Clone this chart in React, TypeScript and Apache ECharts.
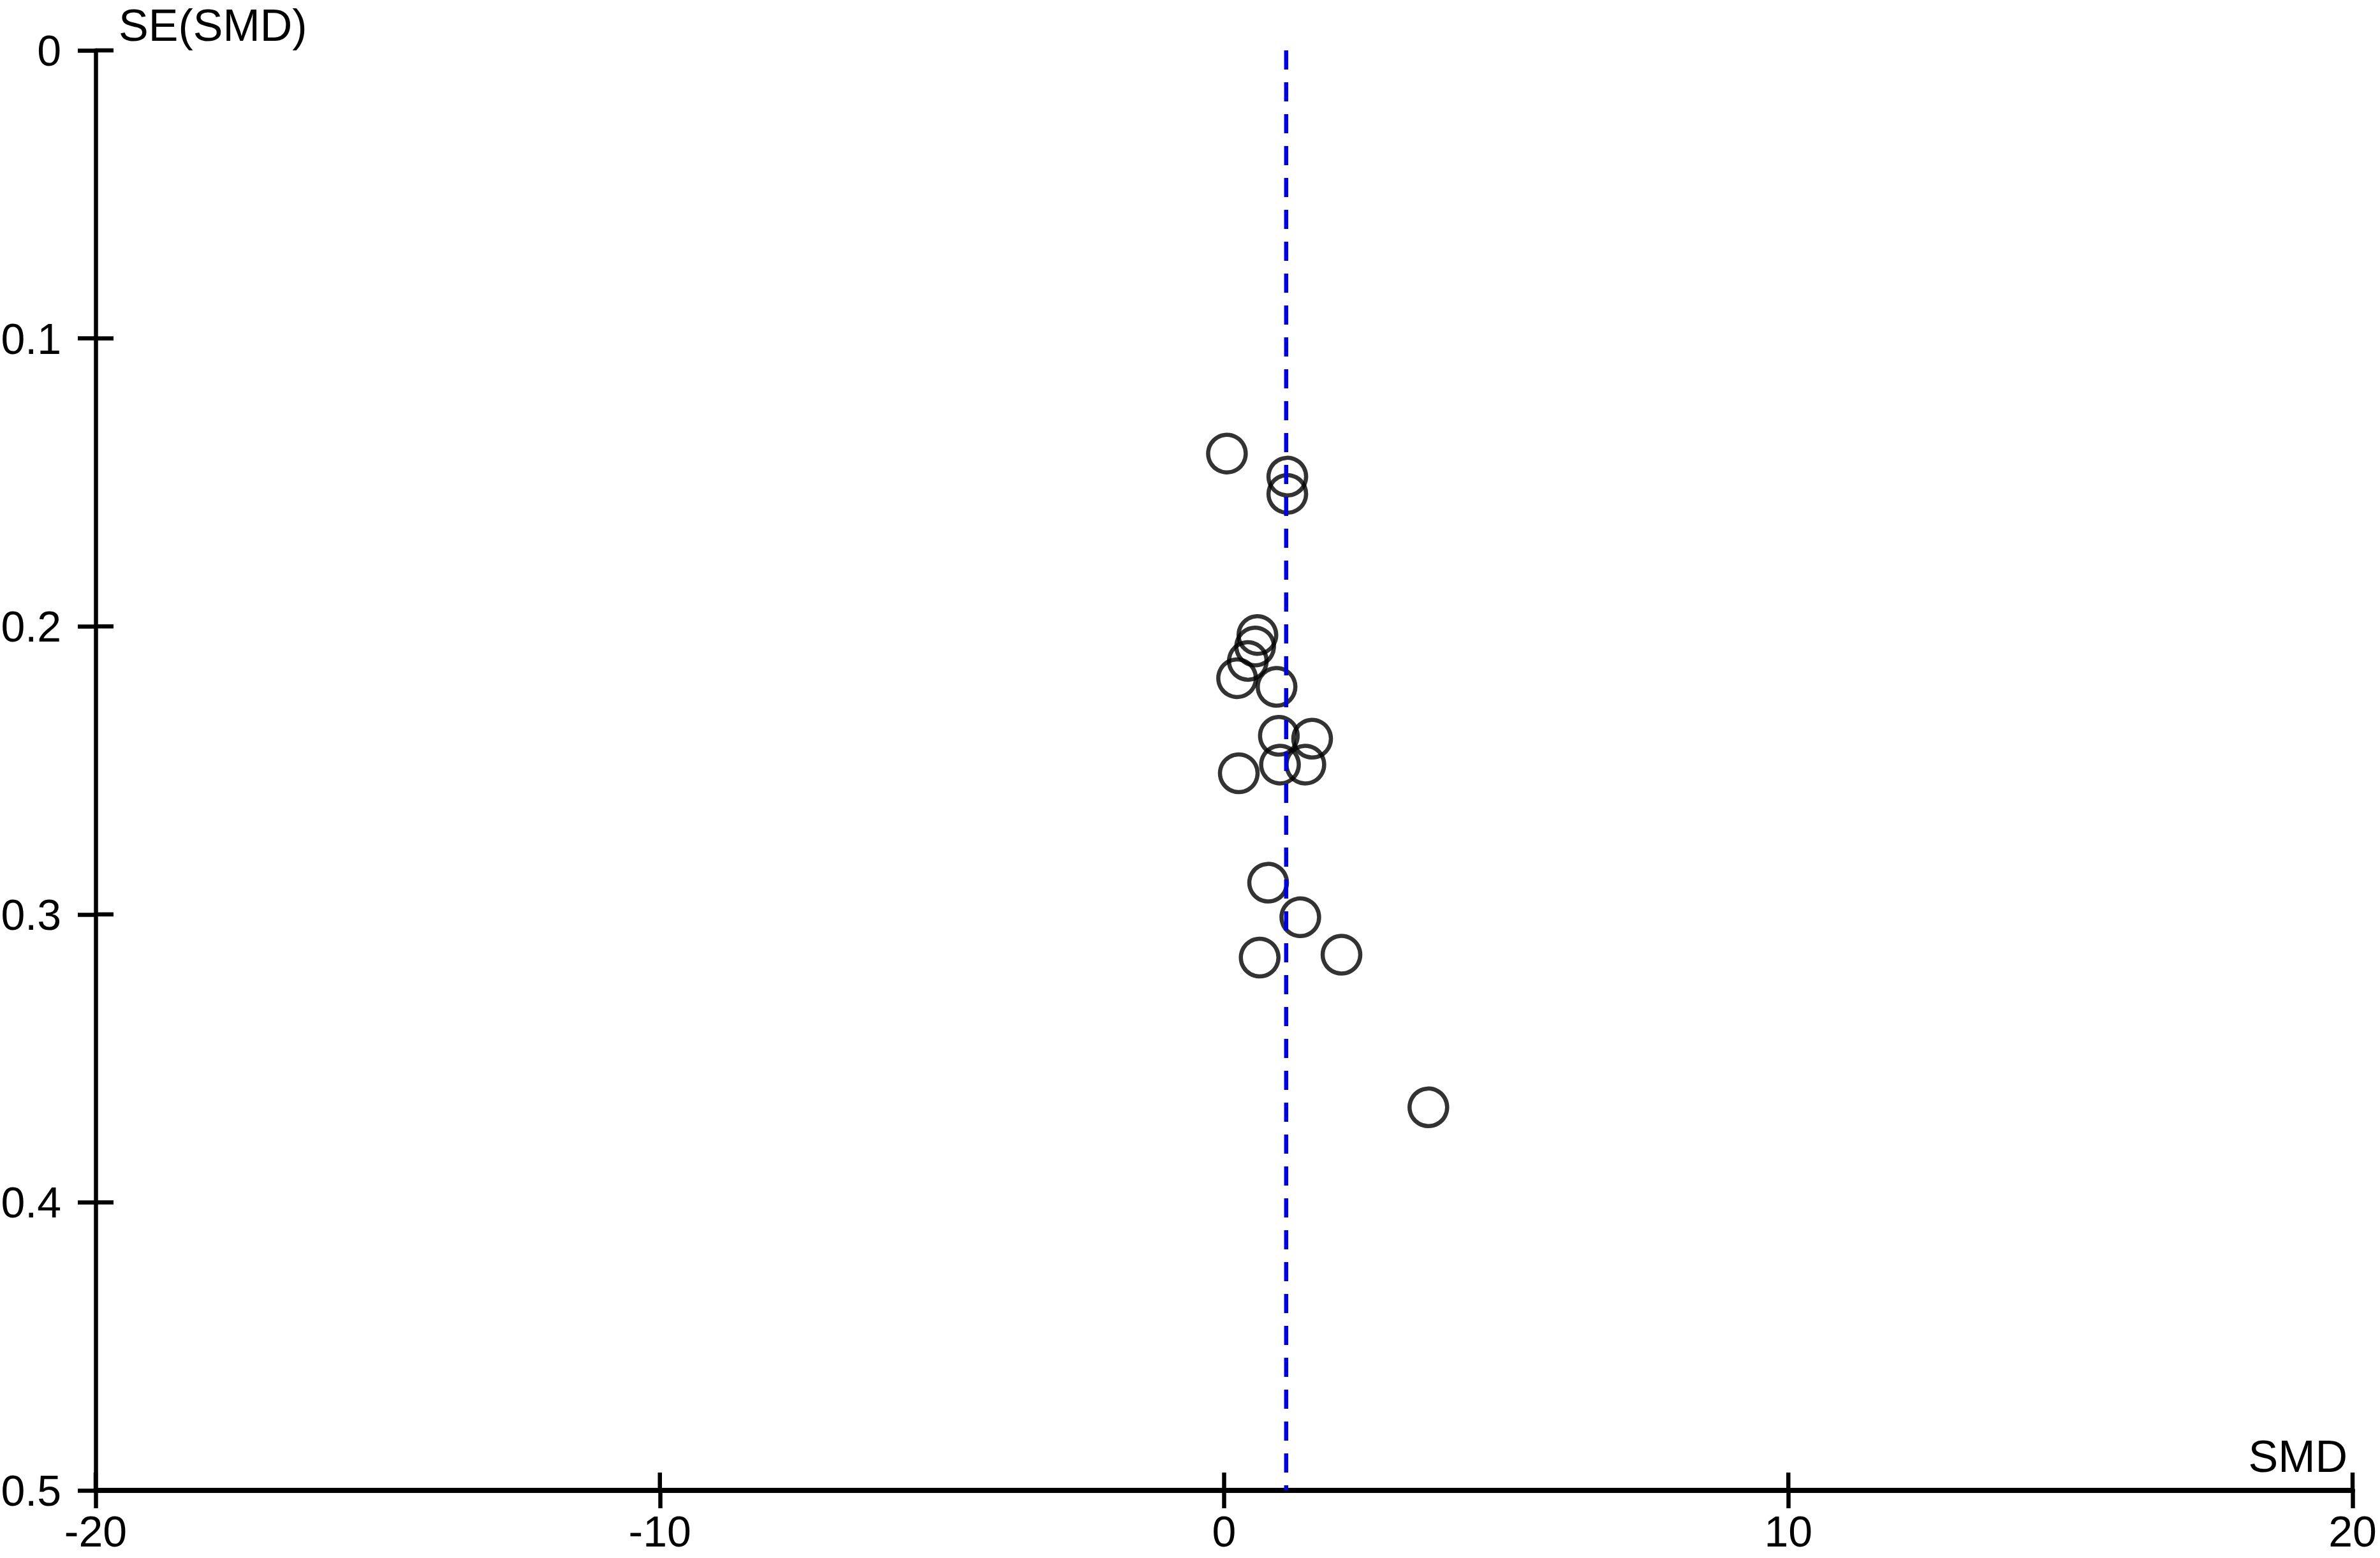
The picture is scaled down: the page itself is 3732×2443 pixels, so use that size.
import React, { useEffect, useRef } from "react";
import * as echarts from "echarts";

// Study effect sizes (SMD) and their standard errors
const smdValues = [0.05, 1.12, 1.12, 0.59, 0.55, 0.42, 0.23, 0.93, 0.97, 1.56, 0.99, 1.44, 0.26, 0.78, 1.35, 0.63, 2.08, 3.62];
const seValues = [0.14, 0.148, 0.154, 0.203, 0.207, 0.212, 0.218, 0.221, 0.238, 0.239, 0.248, 0.248, 0.251, 0.289, 0.301, 0.315, 0.314, 0.367];
const pooledSmd = 1.1;
const seRange = [0, 0.5];
const smdRange = [-20, 20];
const smdTicks = [-20, -10, 0, 10, 20];
const seTicks = [0, 0.1, 0.2, 0.3, 0.4, 0.5];

const FONT = "'Liberation Sans', Arial, sans-serif";
const TICK_LEN = 28;
const TICK_W = 6.5;

export default function App() {
  const ref = useRef<HTMLDivElement>(null);
  useEffect(() => {
    if (!ref.current) return;
    const chart = echarts.init(ref.current, undefined, { renderer: "svg" });
    const points = smdValues.map((x, i) => [x, seValues[i]]);
    const tickStyle = { color: "#000", width: TICK_W };
    const tickLabel = { color: "#000", fontSize: 68, fontFamily: FONT };
    const nameStyle = { color: "#000", fontSize: 70, fontFamily: FONT };
    chart.setOption({
      animation: false,
      backgroundColor: "#fff",
      grid: {
        left: 150,
        right: 43,
        top: 79,
        bottom: 106,
        containLabel: false,
        outerBoundsMode: "none",
      },
      xAxis: {
        type: "value",
        min: smdRange[0],
        max: smdRange[1],
        interval: 10,
        position: "bottom",
        axisLine: { show: true, onZero: false, lineStyle: { color: "#000", width: 8 } },
        axisTick: { show: true, length: TICK_LEN, inside: false, lineStyle: tickStyle },
        axisLabel: { ...tickLabel, margin: 30 },
        splitLine: { show: false },
        name: "SMD",
        nameLocation: "end",
        nameGap: -8,
        nameTextStyle: {
          ...nameStyle,
          align: "right",
          verticalAlign: "bottom",
          lineHeight: 78,
          padding: [0, 0, 14, 0],
        },
      },
      yAxis: {
        type: "value",
        inverse: true,
        min: seRange[0],
        max: seRange[1],
        interval: 0.1,
        position: "left",
        axisLine: { show: true, onZero: false, lineStyle: { color: "#000", width: 6.5 } },
        axisTick: { show: true, length: TICK_LEN, inside: false, lineStyle: tickStyle },
        axisLabel: { ...tickLabel, margin: 54, padding: [14, 0, 0, 0] },
        splitLine: { show: false },
        name: "SE(SMD)",
        nameLocation: "start",
        nameGap: 0,
        nameTextStyle: {
          ...nameStyle,
          align: "left",
          verticalAlign: "bottom",
          lineHeight: 78,
          padding: [0, 0, 0, 36],
        },
      },
      series: [
        {
          // inner halves of the x-axis ticks
          type: "custom",
          clip: false,
          silent: true,
          data: smdTicks.map((v) => [v, seRange[1]]),
          renderItem: (params: any, api: any) => {
            const p = api.coord([api.value(0), api.value(1)]);
            return {
              type: "line",
              shape: { x1: p[0], y1: p[1], x2: p[0], y2: p[1] - TICK_LEN },
              style: { stroke: "#000", lineWidth: TICK_W },
            };
          },
          z: 1,
        },
        {
          // inner halves of the y-axis ticks
          type: "custom",
          clip: false,
          silent: true,
          data: seTicks.map((v) => [smdRange[0], v]),
          renderItem: (params: any, api: any) => {
            const p = api.coord([api.value(0), api.value(1)]);
            return {
              type: "line",
              shape: { x1: p[0], y1: p[1], x2: p[0] + TICK_LEN, y2: p[1] },
              style: { stroke: "#000", lineWidth: TICK_W },
            };
          },
          z: 1,
        },
        {
          type: "scatter",
          data: points,
          symbol: "circle",
          symbolSize: 59,
          itemStyle: { color: "rgba(0,0,0,0)", borderColor: "#000", borderWidth: 6.5 },
          z: 2,
        },
        {
          type: "line",
          data: [
            [pooledSmd, seRange[0]],
            [pooledSmd, seRange[1]],
          ],
          symbol: "none",
          lineStyle: { color: "#0000dd", width: 6.5, type: [30, 20] },
          z: 3,
        },
      ],
    });
    return () => chart.dispose();
  }, []);
  return (
    <div
      ref={ref}
      style={{ position: "fixed", left: 0, top: 0, width: 3732, height: 2443, background: "#fff" }}
    />
  );
}
